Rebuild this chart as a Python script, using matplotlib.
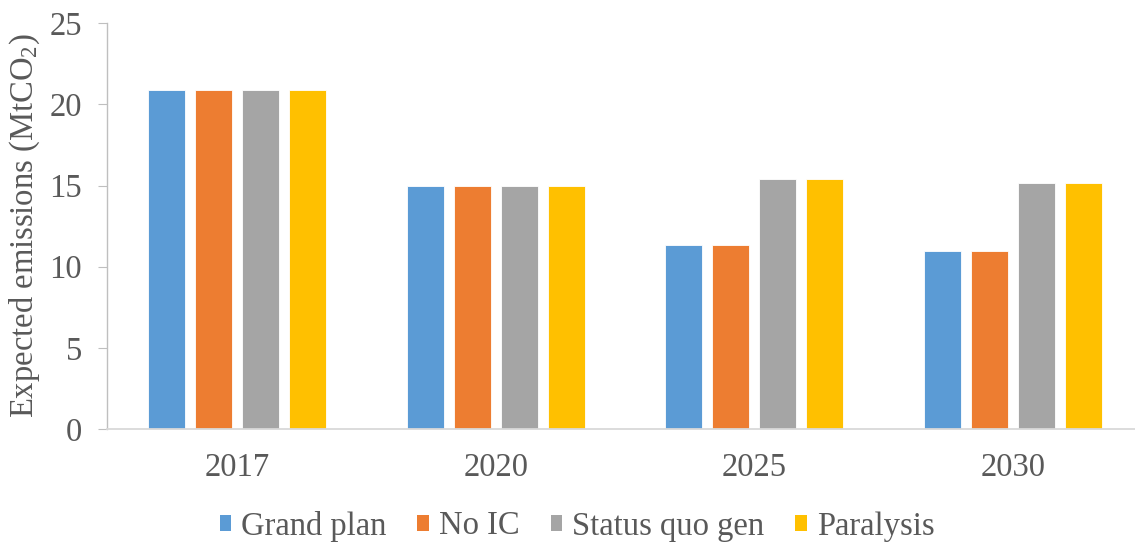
import numpy as np
import matplotlib.pyplot as plt
from matplotlib.patches import Patch

plt.rcParams['font.family'] = ['Liberation Serif', 'DejaVu Serif']
plt.rcParams['mathtext.fontset'] = 'custom'
plt.rcParams['mathtext.rm'] = 'Liberation Serif'
plt.rcParams['mathtext.it'] = 'Liberation Serif:italic'

years = ["2017", "2020", "2025", "2030"]
scenarios = ["Grand plan", "No IC", "Status quo gen", "Paralysis"]
grand_plan = [20.9, 15.0, 11.35, 11.0]
no_ic = [20.9, 15.0, 11.35, 11.0]
status_quo_gen = [20.9, 15.0, 15.4, 15.15]
paralysis = [20.9, 15.0, 15.4, 15.15]
colors = ["#5B9BD5", "#ED7D31", "#A5A5A5", "#FFC000"]

text_col = "#595959"
fs = 23.5
fig = plt.figure(figsize=(11.35, 5.44), dpi=100)
ax = fig.add_axes([0.0947, 0.2114, 0.912, 0.7457])

x = np.arange(len(years))
pitch = 0.1816
width = 0.143
series = [grand_plan, no_ic, status_quo_gen, paralysis]
for i, vals in enumerate(series):
    ax.bar(x + (i - 1.5) * pitch, vals, width, color=colors[i],
           edgecolor="white", linewidth=0.6, label=scenarios[i])

ax.set_xlim(-0.5, 3.5)
ax.set_ylim(0, 25)
ax.set_yticks([0, 5, 10, 15, 20, 25])
ax.set_xticks(x)
ax.set_xticklabels(years)

for s in ["top", "right"]:
    ax.spines[s].set_visible(False)
ax.spines["left"].set_color("#bfbfbf")
ax.spines["bottom"].set_color("#d9d9d9")
ax.spines["left"].set_linewidth(1.0)
ax.spines["bottom"].set_linewidth(1.3)

ax.tick_params(axis="y", length=6.5, color="#bfbfbf", pad=12,
               labelsize=fs, labelcolor=text_col)
ax.tick_params(axis="x", length=0, pad=17, labelsize=fs, labelcolor=text_col)

ax.set_ylabel(r"Expected emissions (MtCO$_2$)", fontsize=fs, color=text_col)
ax.yaxis.set_label_coords(-0.063, 0.5)

handles = [Patch(facecolor=c, edgecolor="none") for c in colors]
fig.legend(handles, scenarios, loc="center", ncol=4,
           bbox_to_anchor=(577 / 1135, 1 - 526 / 544), frameon=False,
           fontsize=fs, labelcolor=text_col, handlelength=0.36,
           handleheight=0.36, handletextpad=0.3, columnspacing=0.95)

fig.savefig("out.png", dpi=100)
